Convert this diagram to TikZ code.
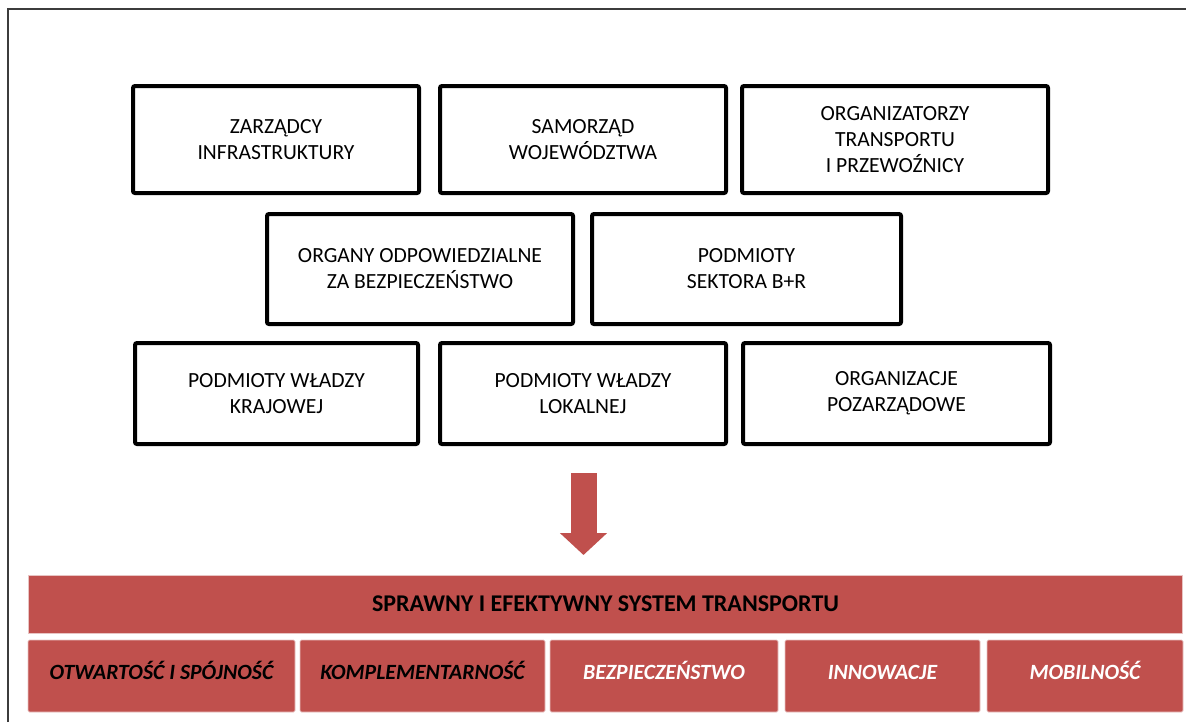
\documentclass[tikz,border=0pt]{standalone}
\usepackage{fontspec}
\setmainfont{Carlito}
\usepackage{tikz}
\usetikzlibrary{arrows.meta}
\definecolor{accred}{HTML}{C0504D}
\definecolor{cellline}{HTML}{E8C4C3}
\definecolor{framegray}{HTML}{3C3C3C}

\begin{document}
\begin{tikzpicture}[x=0.75pt, y=-0.75pt,
                actor/.style={draw=black, line width=3pt, rounded corners=1.5pt, rectangle, align=center, inner sep=0pt, font=\fontsize{16.2}{19.5}\selectfont},
                goalbar/.style={fill=accred, draw=cellline, line width=0.6pt, rectangle, inner sep=0pt, font=\fontsize{18}{21}\selectfont\bfseries},
                pillar/.style={fill=accred, draw=cellline, line width=0.6pt, rectangle, rounded corners=1pt, inner sep=0pt, minimum height=54pt, text height=0.75em, text depth=0.2em, font=\fontsize{16.3}{19}\selectfont\bfseries\itshape},
                bigarrow/.style={accred, line width=19.5pt, -{Triangle[length=16.5pt, width=34.5pt]}},
                frame/.style={framegray, line width=1.1pt}
            ]
            \useasboundingbox (0,0) rectangle (1186,722);

            % ramka
            \draw[frame] (8,722) -- (8,9) -- (1186,9);

            % pierwszy rzad
            \node[actor, minimum width=214.5pt, minimum height=80.25pt] (zarz) at (276,139.5) {ZARZĄDCY\\INFRASTRUKTURY};
            \node[actor, minimum width=214.5pt, minimum height=80.25pt] (samo) at (583,139.5) {SAMORZĄD\\WOJEWÓDZTWA};
            \node[actor, minimum width=229.5pt, minimum height=80.25pt] (orgt) at (895,139.5) {ORGANIZATORZY\\TRANSPORTU\\I PRZEWOŹNICY};

            % drugi rzad
            \node[actor, minimum width=229.5pt, minimum height=82.5pt] (bezp) at (420,269) {ORGANY ODPOWIEDZIALNE\\ZA BEZPIECZEŃSTWO};
            \node[actor, minimum width=231.75pt, minimum height=82.5pt] (bir) at (746.5,269) {PODMIOTY\\SEKTORA B+R};

            % trzeci rzad
            \node[actor, minimum width=212.25pt, minimum height=75.75pt] (wkraj) at (276.5,393.5) {PODMIOTY WŁADZY\\KRAJOWEJ};
            \node[actor, minimum width=214.5pt, minimum height=75.75pt] (wlok) at (583,393.5) {PODMIOTY WŁADZY\\LOKALNEJ};
            \node[actor, minimum width=230.25pt, minimum height=75.75pt] (ngo) at (896.5,393.5) {ORGANIZACJE\\POZARZĄDOWE};

            % strzalka
            \coordinate (arrtop) at (583.5,473);
            \coordinate (arrtip) at (583.5,555);
            \draw[bigarrow] (arrtop) -- (arrtip);

            % system transportu
            \node[goalbar, minimum width=866pt, minimum height=43.5pt] (sys) at (605.5,604) {SPRAWNY I EFEKTYWNY SYSTEM TRANSPORTU};
            \node[pillar, minimum width=200.25pt] (otw) at (161.5,676) {OTWARTOŚĆ I SPÓJNOŚĆ};
            \node[pillar, minimum width=183.75pt] (kompl) at (422.5,676) {KOMPLEMENTARNOŚĆ};
            \node[pillar, minimum width=171pt, text=white] (bezpw) at (664,676) {BEZPIECZEŃSTWO};
            \node[pillar, minimum width=146.25pt, text=white] (innow) at (882.5,676) {INNOWACJE};
            \node[pillar, minimum width=147pt, text=white] (mobil) at (1085,676) {MOBILNOŚĆ};

        \end{tikzpicture}
\end{document}
